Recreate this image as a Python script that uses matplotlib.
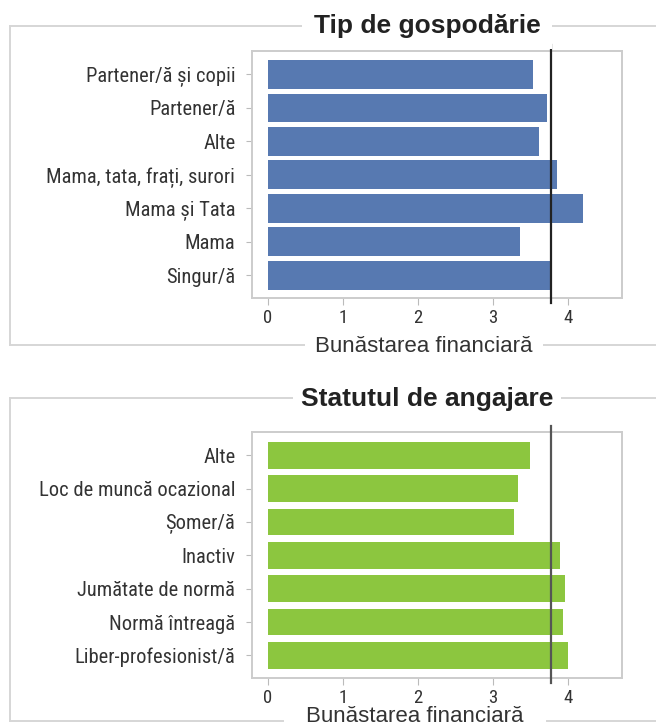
import matplotlib
matplotlib.use("Agg")
import matplotlib.pyplot as plt
from matplotlib import font_manager
from matplotlib.lines import Line2D

# =======================================
#   DATOS
# =======================================

gospodarie_labels = ["Partener/ă și copii", "Partener/ă", "Alte",
                     "Mama, tata, frați, surori", "Mama și Tata", "Mama", "Singur/ă"]
gospodarie_values = [3.53, 3.72, 3.62, 3.86, 4.20, 3.36, 3.77]

angajare_labels = ["Alte", "Loc de muncă ocazional", "Șomer/ă", "Inactiv",
                   "Jumătate de normă", "Normă întreagă", "Liber-profesionist/ă"]
angajare_values = [3.50, 3.34, 3.28, 3.90, 3.96, 3.93, 4.00]

medie = 3.78
x_ticks = [0, 1, 2, 3, 4]

# =======================================
#   FUENTES
# =======================================

disponibles = {f.name for f in font_manager.fontManager.ttflist}
fuente_ticks = "Roboto"
for cand in ["Roboto Condensed", "Liberation Sans Narrow", "Open Sans Condensed"]:
    if cand in disponibles:
        fuente_ticks = cand
        break

W, H = 656, 722
fig = plt.figure(figsize=(W / 100, H / 100), dpi=100)
GRIS = "#d6d6d6"


def px(x, y):
    # pixeles (desde arriba-izquierda) -> fraccion de figura
    return x / W, 1 - y / H


def linea(x0, x1, y0, y1):
    a, b = px(x0, y0)
    c, d = px(x1, y1)
    fig.add_artist(Line2D([a, c], [b, d], transform=fig.transFigure, color=GRIS, lw=1.4))


def marco(top, bottom, hueco_abajo=None):
    linea(9.5, 9.5, top, bottom)
    linea(9.5, 670, top, top)
    if hueco_abajo is None:
        linea(9.5, 670, bottom, bottom)
    else:
        linea(9.5, hueco_abajo[0], bottom, bottom)
        linea(hueco_abajo[1], 670, bottom, bottom)


def panel(rect, labels, values, color, bar_h, line_color):
    ax = fig.add_axes(rect)
    pos = list(range(len(labels)))[::-1]
    ax.barh(pos, values, height=bar_h, color=color, zorder=2)
    ax.axvline(medie, ymin=-0.02, ymax=1.025, color=line_color, lw=1.6,
               clip_on=False, zorder=3)
    ax.set_xlim(-0.21, 4.72)
    ax.set_ylim(-0.68, len(labels) - 0.3)
    ax.set_yticks(pos)
    ax.set_yticklabels(labels, fontsize=14.8, color="#333333", family=fuente_ticks)
    ax.set_xticks(x_ticks)
    ax.set_xticklabels([str(t) for t in x_ticks], fontsize=13.5, color="#333333",
                       family=fuente_ticks)
    for s in ax.spines.values():
        s.set_color("#cccccc")
        s.set_linewidth(1.4)
    ax.tick_params(axis="y", length=4, color="#bbbbbb", pad=8)
    ax.tick_params(axis="x", length=5, color="#bbbbbb", pad=3)
    return ax


# =======================================
#   GRAFICAS
# =======================================

panel([252 / W, 1 - 298 / H, 370 / W, 247 / H], gospodarie_labels, gospodarie_values,
      "#5779b1", 0.86, "#222222")
panel([252 / W, 1 - 678 / H, 370 / W, 246 / H], angajare_labels, angajare_values,
      "#8cc63f", 0.80, "#555555")

marco(25.7, 345)
marco(398, 720.5, hueco_abajo=(283, 547))

caja = dict(boxstyle="square,pad=0.45", facecolor="white", edgecolor="none")

fig.text(*px(427, 25.5), "Tip de gospodărie", ha="center", va="center",
         fontsize=19, fontweight="bold", color="#222222", family="Liberation Sans", bbox=caja)
fig.text(*px(427, 399), "Statutul de angajare", ha="center", va="center",
         fontsize=19, fontweight="bold", color="#222222", family="Liberation Sans",
         bbox=dict(boxstyle="square,pad=0.3", facecolor="white", edgecolor="none"))
fig.text(*px(424, 346), "Bunăstarea financiară", ha="center", va="center",
         fontsize=16, color="#333333", family="Liberation Sans", bbox=caja)
fig.text(*px(415, 717), "Bunăstarea financiară", ha="center", va="center",
         fontsize=16, color="#333333", family="Liberation Sans")

fig.savefig("out.png", dpi=100)
plt.close(fig)
